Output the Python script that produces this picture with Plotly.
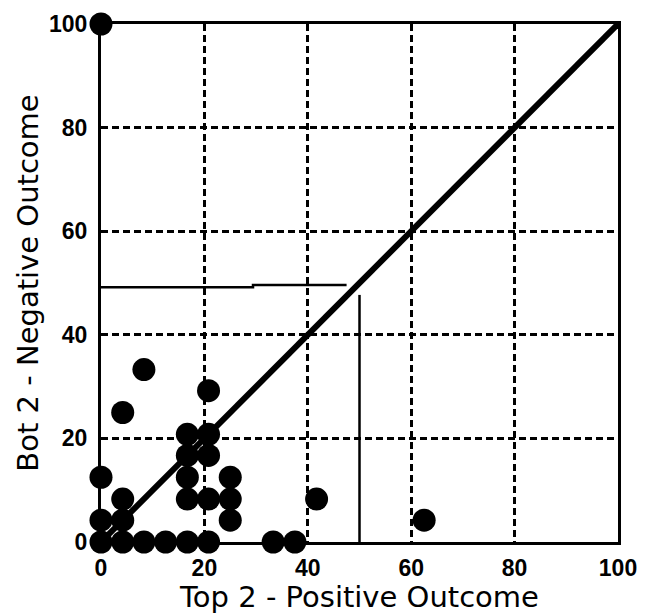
import plotly.graph_objects as go

# Data (percent of respondents)
top2_positive = [0, 8.3, 4.2, 20.8, 16.7, 20.8, 16.7, 20.8, 16.7, 25, 16.7, 20.8, 25, 25,
                 0, 4.2, 0, 4.2, 0, 4.2, 8.3, 12.5, 16.7, 20.8, 33.3, 37.5, 41.7, 62.5]
bot2_negative = [100, 33.3, 25, 29.2, 20.8, 20.8, 16.7, 16.7, 12.5, 12.5, 8.3, 8.3, 8.3, 4.2,
                 12.5, 8.3, 4.2, 4.2, 0, 0, 0, 0, 0, 0, 0, 0, 8.3, 4.2]

# Reference lines
diag_x = [0, 100]
diag_y = [0, 100]
hline_x = [0, 29.4, 29.4, 47.5]
hline_y = [49.2, 49.2, 49.6, 49.6]
vline_x = [50, 50]
vline_y = [0, 47.7]

tick_vals = [0, 20, 40, 60, 80, 100]
tick_text = ["0", "20", "40", "60", "80", "100"]

fig = go.Figure()
fig.add_trace(go.Scatter(x=diag_x, y=diag_y, mode="lines",
                         line=dict(color="black", width=6), showlegend=False, hoverinfo="skip"))
fig.add_trace(go.Scatter(x=hline_x, y=hline_y, mode="lines",
                         line=dict(color="black", width=2.5), showlegend=False, hoverinfo="skip"))
fig.add_trace(go.Scatter(x=vline_x, y=vline_y, mode="lines",
                         line=dict(color="black", width=2.5), showlegend=False, hoverinfo="skip"))
fig.add_trace(go.Scatter(x=top2_positive, y=bot2_negative, mode="markers",
                         marker=dict(color="black", size=23, line=dict(width=0)),
                         cliponaxis=False, showlegend=False))

axis_common = dict(
    range=[0, 100], tickvals=tick_vals, ticktext=tick_text,
    showline=True, linecolor="black", linewidth=3, mirror=True,
    showgrid=True, gridcolor="black", gridwidth=2.5, griddash="7px,4px",
    zeroline=False, ticks="", layer="below traces", automargin=False,
    tickfont=dict(family="Liberation Sans, Arial", size=23, color="black", weight="bold"),
    fixedrange=True,
)

title_font = dict(family="DejaVu Sans", size=29, color="black")

fig.update_layout(
    template="none",
    width=645, height=606,
    margin=dict(l=93, r=35, t=16, b=72),
    paper_bgcolor="white", plot_bgcolor="white",
    xaxis=dict(**axis_common, ticklabelstandoff=3,
               title=dict(text="Top 2 - Positive Outcome", standoff=13, font=title_font)),
    yaxis=dict(**axis_common, ticklabelstandoff=6,
               title=dict(text="Bot 2 - Negative Outcome", standoff=2, font=title_font)),
)

fig.write_html("out.html")
